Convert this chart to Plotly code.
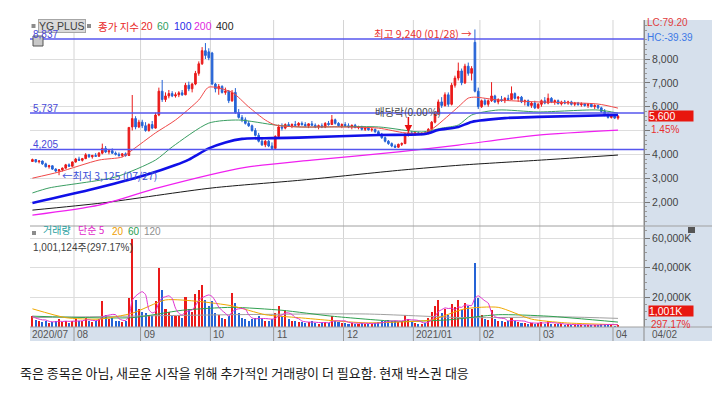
import plotly.graph_objects as go
import pandas as pd

# ---------------- data ----------------
holidays = ["2020-08-17", "2020-09-30", "2020-10-01", "2020-10-02", "2020-10-09",
            "2020-12-25", "2020-12-31", "2021-01-01", "2021-02-11", "2021-02-12", "2021-03-01"]

opens = [
    3700, 3780, 3690, 3720, 3600, 3480, 3520, 3380, 3300, 3350, 3420, 3560, 3500,
    3680, 3800, 3750, 3820, 3980, 3900, 3950, 3920, 4050, 4250, 4100, 4150, 4050, 4000, 3950, 4020, 3950, 5150, 5500, 5150,
    5350, 5200, 5000, 5250, 5100, 5650, 6650, 6300, 6450, 6550, 6450, 6500, 6580, 6500, 6900, 6750, 6950, 7400, 7800, 8350, 8300,
    8250, 6950, 6750, 6850, 6600, 6650, 6250, 6600, 5750, 5550, 5450, 5300, 5200, 5000, 4800, 4550, 4400, 4550, 4350,
    4250, 4750, 5150, 5100, 5250, 5200, 5250, 5220, 5300, 5250, 5200, 5280, 5220, 5150, 5200, 5150, 5300, 5250, 5450, 5300, 5200,
    5250, 5200, 5150, 5220, 5120, 5150, 5050, 5100, 5030, 5050, 4950, 4850, 4700, 4550, 4450, 4350, 4300, 4420, 4450, 4850, 4900,
    4850, 4900, 4850, 4880, 4860, 5050, 5350, 5700, 6200, 6050, 6500, 6100, 6900, 7200, 7500, 7000, 7700, 7400, 8700, 6650,
    6000, 6250, 6100, 6250, 6450, 6200, 6300, 6250, 6350, 6300, 6550, 6350, 6400, 6200, 6250, 6050, 6150, 5950,
    6100, 6250, 6150, 6350, 6200, 6250, 6120, 6200, 6150, 6200, 6100, 6150, 6080, 6120, 6050, 6100, 6000, 6050, 5950, 5800, 5650, 5550,
    5650, 5520,
]
highs = [
    3820, 3800, 3760, 3740, 3650, 3560, 3540, 3420, 3380, 3450, 3600, 3620, 3700,
    3850, 3900, 3850, 4050, 4020, 3980, 4050, 4100, 4450, 4350, 4200, 4250, 4120, 4080, 4050, 4080, 5130, 6490, 5600, 5450,
    5450, 5350, 5300, 5400, 5750, 6800, 7120, 6600, 6700, 6650, 6600, 6650, 6700, 7000, 7050, 7000, 7500, 7900, 8500, 8670, 8450,
    8300, 7000, 6950, 6900, 6800, 6700, 6700, 6780, 5900, 5650, 5550, 5400, 5250, 5100, 4900, 4700, 4600, 4600, 4500,
    4800, 5250, 5300, 5300, 5350, 5300, 5400, 5350, 5380, 5350, 5300, 5400, 5300, 5250, 5300, 5350, 5400, 5650, 5500, 5350, 5300,
    5350, 5300, 5250, 5280, 5200, 5200, 5150, 5150, 5100, 5080, 5000, 4900, 4750, 4600, 4500, 4420, 4450, 4500, 4900, 5000, 4980,
    4950, 4950, 4920, 4950, 5100, 5400, 5800, 6300, 6400, 6600, 6600, 7000, 7300, 7850, 7600, 7800, 7850, 7700, 9240, 6800,
    6300, 6350, 6300, 7030, 6500, 6350, 6450, 6400, 6500, 6850, 6600, 6450, 6450, 6300, 6300, 6200, 6250, 6150,
    6300, 6400, 6550, 6400, 6300, 6300, 6250, 6280, 6250, 6250, 6200, 6200, 6180, 6150, 6150, 6150, 6100, 6080, 6000, 5900, 5750, 5700,
    5700, 5650,
]
lows = [
    3680, 3650, 3620, 3560, 3450, 3400, 3350, 3250, 3125, 3280, 3400, 3480, 3490,
    3650, 3720, 3700, 3800, 3850, 3820, 3900, 3900, 4000, 4050, 4000, 4020, 3950, 3900, 3880, 3900, 3940, 5000, 5050, 5100,
    5100, 4950, 4950, 5050, 5080, 5600, 6200, 6200, 6350, 6400, 6380, 6400, 6450, 6480, 6650, 6600, 6900, 7300, 7750, 8000, 7950,
    6900, 6600, 6500, 6550, 6500, 6150, 6200, 5700, 5500, 5350, 5250, 5150, 4950, 4750, 4500, 4350, 4300, 4300, 4205,
    4220, 4700, 5000, 5050, 5150, 5100, 5180, 5150, 5200, 5150, 5100, 5200, 5100, 5050, 5100, 5100, 5200, 5230, 5250, 5150, 5100,
    5150, 5100, 5050, 5100, 5050, 5000, 4980, 5000, 4950, 4900, 4800, 4650, 4500, 4400, 4300, 4265, 4270, 4350, 4430, 4750, 4800,
    4780, 4820, 4800, 4830, 4850, 5000, 5300, 5650, 5950, 6000, 6000, 6050, 6800, 7100, 6900, 6950, 7300, 7100, 6600, 5900,
    5950, 6050, 6000, 6200, 6150, 6100, 6200, 6150, 6250, 6280, 6300, 6200, 6150, 6050, 6000, 5950, 5900, 5900,
    6000, 6100, 6100, 6150, 6080, 6100, 6050, 6100, 6080, 6050, 6020, 6050, 6000, 6000, 5950, 5980, 5900, 5900, 5750, 5600, 5500, 5500,
    5480, 5450,
]
closes = [
    3780, 3690, 3720, 3600, 3480, 3520, 3380, 3300, 3350, 3420, 3560, 3500, 3680,
    3800, 3750, 3820, 3980, 3900, 3950, 3920, 4050, 4250, 4100, 4150, 4050, 4000, 3950, 4020, 3950, 5130, 5500, 5150, 5350,
    5200, 5000, 5250, 5100, 5650, 6650, 6300, 6450, 6550, 6450, 6500, 6580, 6500, 6900, 6750, 6950, 7400, 7800, 8350, 8150, 8050,
    6950, 6750, 6850, 6600, 6650, 6250, 6600, 5750, 5550, 5450, 5300, 5200, 5000, 4800, 4550, 4400, 4550, 4350, 4250,
    4750, 5150, 5100, 5250, 5200, 5250, 5220, 5300, 5250, 5200, 5280, 5220, 5150, 5200, 5150, 5300, 5250, 5450, 5300, 5200, 5250,
    5200, 5150, 5220, 5120, 5150, 5050, 5100, 5030, 5050, 4950, 4850, 4700, 4550, 4450, 4350, 4300, 4420, 4450, 4850, 4900, 4850,
    4900, 4850, 4880, 4860, 5050, 5350, 5700, 6200, 6050, 6500, 6100, 6900, 7200, 7500, 7000, 7700, 7400, 7600, 6650, 6000,
    6250, 6100, 6250, 6450, 6200, 6300, 6250, 6350, 6300, 6550, 6350, 6400, 6200, 6250, 6050, 6150, 5950, 6100,
    6250, 6150, 6350, 6200, 6250, 6120, 6200, 6150, 6200, 6100, 6150, 6080, 6120, 6050, 6100, 6000, 6050, 5950, 5800, 5650, 5550, 5650,
    5520, 5600,
]
volumes_k = [
    7000, 4500, 3500, 3000, 4000, 2500, 3000, 3500, 5000, 3000, 3500, 2500, 4000,
    5000, 4000, 3500, 6000, 4000, 3000, 3500, 5000, 17000, 8000, 5000, 6000, 4000, 3500, 3000, 4000, 19000, 59000, 18000, 12000,
    10000, 9000, 8000, 7000, 17000, 40000, 25000, 12000, 10000, 8000, 7000, 8000, 6000, 20000, 12000, 10000, 22000, 25000, 28000, 18000, 14000,
    17000, 9000, 8000, 6000, 5000, 7000, 23000, 16000, 9000, 6000, 5000, 4000, 5000, 6000, 7000, 5000, 4000, 4000, 5000,
    9000, 14000, 7000, 11000, 5000, 4000, 3500, 3000, 3000, 2500, 3000, 3500, 2500, 2000, 2500, 3000, 2500, 7000, 4000, 3000, 2500,
    2500, 2000, 2500, 2000, 2000, 2500, 2000, 1800, 2000, 2500, 3000, 3500, 4000, 4500, 3500, 4000, 3000, 3500, 8000, 5000, 3000,
    2500, 2000, 2000, 2500, 6000, 10000, 14000, 18000, 9000, 12000, 8000, 15000, 13000, 18000, 11000, 16000, 14000, 12000, 43000, 19000,
    8000, 5000, 4500, 11000, 5000, 4000, 3500, 3000, 3500, 6000, 4000, 3000, 2500, 2500, 2000, 2500, 2000, 2500,
    3000, 2000, 3500, 2000, 1800, 1500, 1500, 1300, 1500, 1200, 1200, 1000, 1200, 1000, 1100, 900, 1000, 900, 1500, 1800, 1600, 1200,
    337, 1001,
]

# moving averages (day index, value)
ma20_i = [0, 8, 20, 27, 30, 37, 43, 50, 53, 60, 65, 70, 73, 80, 92, 104, 112, 118, 121, 128, 131, 133, 140, 152, 170, 176]
ma20_v = [3000, 3260, 3760, 3890, 4180, 4900, 5440, 6280, 6820, 6600, 5990, 5440, 5230, 5150, 5150, 5100, 4900, 4900, 5150, 5990, 6360, 6400, 6280, 6200, 6110, 5940]
ma60_i = [0, 5, 25, 37, 42, 53, 62, 73, 80, 104, 117, 123, 128, 132, 140, 152, 170, 176]
ma60_v = [2380, 2590, 3050, 3760, 4310, 5310, 5440, 5230, 5150, 5150, 4940, 5100, 5230, 5650, 5860, 5780, 5860, 5730]
ma100_i = [0, 17, 34, 43, 47, 53, 58, 63, 72, 80, 104, 118, 122, 128, 132, 142, 152, 176]
ma100_v = [1960, 2500, 3130, 3550, 3780, 4250, 4500, 4650, 4680, 4700, 4810, 4850, 5020, 5150, 5360, 5520, 5570, 5650]
ma200_i = [0, 20, 38, 64, 84, 110, 128, 152, 176]
ma200_v = [1450, 1870, 2600, 3450, 3760, 4100, 4390, 4810, 5020]
ma400_i = [0, 21, 54, 81, 111, 129, 153, 176]
ma400_v = [1660, 1960, 2590, 2920, 3340, 3550, 3760, 3970]

vma20_i = [0, 10, 20, 30, 40, 50, 60, 70, 80, 90, 100, 110, 120, 130, 140, 150, 160, 176]
vma20_v = [12000, 6000, 5000, 9000, 18000, 17000, 14000, 8000, 6000, 4000, 2500, 3000, 4500, 12000, 13000, 5000, 2500, 1200]
vma60_i = [0, 30, 45, 60, 75, 90, 110, 125, 140, 155, 176]
vma60_v = [7000, 6000, 11000, 13000, 11000, 7000, 3500, 4500, 8000, 7000, 3000]
vma120_i = [0, 60, 100, 130, 160, 176]
vma120_v = [6000, 8000, 8500, 6000, 6500, 5500]

level_lines = [8837, 5737, 4205]
price_ticks = [2000, 3000, 4000, 5000, 6000, 7000, 8000]
price_tick_text = ["2,000", "3,000", "4,000", "", "6,000", "7,000", "8,000"]
vol_ticks = [20000, 40000, 60000]
vol_tick_text = ["20,000K", "40,000K", "60,000K"]
month_labels = ["2020/07", "08", "09", "10", "11", "12", "2021/01", "02", "03", "04"]

high_idx, high_val = 133, 9240
low_idx, low_val = 8, 3125
exdiv_idx = 113

# ---------------- build ----------------
dates = [d for d in pd.bdate_range("2020-07-15", "2021-04-02") if d.strftime("%Y-%m-%d") not in holidays]
idx = list(range(len(dates)))
month_first = [i for i, d in enumerate(dates) if i == 0 or d.month != dates[i - 1].month]

RED = "#EA1A1A"
BLUE = "#2563D6"
# page has an 8px body margin: figure is 712x389 so it fills the 720x397 window
W, H = 712, 389
L, R, T, B = 22, 76, 12, 70
PW, PH = W - L - R, H - T - B
OFF = 8  # page offset


def px_x(px):  # page pixel -> paper x
    return (px - OFF - L) / PW


def px_y(py):  # page pixel -> paper y
    return (H - B - (py - OFF)) / PH


FONT = "Liberation Sans, Noto Sans CJK KR, sans-serif"
KFONT = "Noto Sans CJK KR, sans-serif"

fig = go.Figure()
fig.add_trace(go.Candlestick(
    x=idx, open=opens, high=highs, low=lows, close=closes,
    increasing=dict(line=dict(color=RED, width=1), fillcolor=RED),
    decreasing=dict(line=dict(color=BLUE, width=1), fillcolor=BLUE),
    whiskerwidth=0, hoverinfo="skip", showlegend=False))

for xs, ys, col, w in [(ma400_i, ma400_v, "#1A1A1A", 1), (ma200_i, ma200_v, "#F020F0", 1.2),
                       (ma60_i, ma60_v, "#3A9E62", 1), (ma20_i, ma20_v, "#F04848", 1),
                       (ma100_i, ma100_v, "#1010E8", 2.6)]:
    fig.add_trace(go.Scatter(x=xs, y=ys, mode="lines", line=dict(color=col, width=w, shape="spline", smoothing=0.7),
                             hoverinfo="skip", showlegend=False))

vcol = [RED if c >= o else BLUE for o, c in zip(opens, closes)]
fig.add_trace(go.Bar(x=idx, y=volumes_k, width=0.62, marker=dict(color=vcol, line=dict(width=0)),
                     yaxis="y2", hoverinfo="skip", showlegend=False))
vma5 = pd.Series(volumes_k).rolling(5, min_periods=1).mean().tolist()
for xs, ys, col in [(vma120_i, vma120_v, "#A0A0A0"), (vma60_i, vma60_v, "#30A050"),
                    (vma20_i, vma20_v, "#F0A800"), (idx, vma5, "#E030D0")]:
    fig.add_trace(go.Scatter(x=xs, y=ys, mode="lines", line=dict(color=col, width=1, shape="spline", smoothing=0.6),
                             yaxis="y2", hoverinfo="skip", showlegend=False))

shapes = []
shapes.append(dict(type="rect", xref="paper", yref="paper", x0=1, x1=px_x(720), y0=px_y(341), y1=1,
                   fillcolor="#D6E0EC", line=dict(width=0), layer="below"))
shapes.append(dict(type="rect", xref="paper", yref="paper", x0=0, x1=1, y0=px_y(341), y1=0,
                   fillcolor="#D6E0EC", line=dict(width=0), layer="below"))
for mf in month_first[1:]:
    shapes.append(dict(type="line", xref="x", yref="paper", x0=mf - 0.5, x1=mf - 0.5, y0=0, y1=1,
                       line=dict(color="#D4D4D4", width=1), layer="below"))
    shapes.append(dict(type="line", xref="x", yref="paper", x0=mf - 0.5, x1=mf - 0.5, y0=px_y(341), y1=0,
                       line=dict(color="#9A9A9A", width=1)))
shapes.append(dict(type="line", xref="paper", yref="paper", x0=1, x1=1, y0=px_y(341), y1=1,
                   line=dict(color="#8A8A8A", width=1)))
shapes.append(dict(type="line", xref="paper", yref="paper", x0=0, x1=px_x(720), y0=px_y(226), y1=px_y(226),
                   line=dict(color="#A0A0A0", width=1)))
shapes.append(dict(type="line", xref="paper", yref="paper", x0=0, x1=px_x(720), y0=0, y1=0,
                   line=dict(color="#A0A0A0", width=1)))
for lv in level_lines:
    shapes.append(dict(type="line", xref="paper", yref="y", x0=0, x1=1, y0=lv, y1=lv,
                       line=dict(color="#5656EE", width=1.4)))
for x0, x1, y0, y1, fc in [(31.5, 35.5, 24, 28, "#8C8C8C"), (87, 91, 24, 28, "#8C8C8C"),
                           (32, 36, 231, 235, "#8C8C8C"), (688, 695, 227, 233, "#555555")]:
    shapes.append(dict(type="rect", xref="paper", yref="paper", x0=px_x(x0), x1=px_x(x1), y0=px_y(y1), y1=px_y(y0),
                       fillcolor=fc, line=dict(width=0)))
shapes.append(dict(type="rect", xref="paper", yref="paper", x0=px_x(33), x1=px_x(43), y0=px_y(46), y1=px_y(36),
                   fillcolor="#C8C8C8", line=dict(color="#555555", width=1)))

ann = []


def text(x, y, s, color="#333", size=10, xanchor="left", yanchor="middle", xref="paper", yref="paper",
         family=FONT, **kw):
    d = dict(x=x, y=y, xref=xref, yref=yref, text=s, showarrow=False, xanchor=xanchor, yanchor=yanchor,
             font=dict(color=color, size=size, family=family))
    d.update(kw)
    ann.append(d)


text(px_x(38), px_y(26), "YG PLUS", "#404040", 10.5, bgcolor="#DADADA", bordercolor="#A6A6A6", borderwidth=1,
     borderpad=0)
text(px_x(96), px_y(26), "종가 지수", "#E82828", 10.5, family=KFONT)
text(px_x(139), px_y(26), "20", "#E82828", 10.5)
text(px_x(155), px_y(26), "60", "#2E9E60", 10.5)
text(px_x(172), px_y(26), "100", "#2828E6", 10.5)
text(px_x(192), px_y(26), "200", "#E028E0", 10.5)
text(px_x(214), px_y(26), "400", "#222222", 10.5)

for lv in level_lines:
    text(px_x(31), lv, f"{lv:,}", "#4848D8", 10, yref="y", yanchor="bottom", yshift=-3)

text(high_idx, high_val, f"최고 {high_val:,} (01/28) →", "#E83030", 10.5, xanchor="right", xref="x", yref="y",
     family=KFONT, xshift=-1, yshift=-4)
text(low_idx, low_val, f"←최저 {low_val:,} (07/27)", "#3A4ED8", 10.5, xref="x", yref="y", family=KFONT, xshift=1)
text(exdiv_idx, 5818, "배당락(0.00%)", "#4A4A4A", 10.5, xanchor="center", xref="x", yref="y", family=KFONT)
ann.append(dict(x=exdiv_idx, y=4920, xref="x", yref="y", ax=0, ay=-17, showarrow=True, arrowhead=2, arrowsize=1,
                arrowwidth=1.5, arrowcolor="#E81010", text=""))

text(px_x(41), px_y(239), "거래량", "#26A0A0", 10, family=KFONT, yanchor="bottom")
text(px_x(76), px_y(239), "단순 5", "#E028C8", 10, family=KFONT, yanchor="bottom")
text(px_x(110), px_y(239), "20", "#F0A000", 10, yanchor="bottom")
text(px_x(126), px_y(239), "60", "#28A050", 10, yanchor="bottom")
text(px_x(142), px_y(239), "120", "#909090", 10, yanchor="bottom")
text(px_x(31), px_y(239.5), "1,001,124주(297.17%)", "#404040", 10, yanchor="top")

text(px_x(645), px_y(29.5), "LC:79.20", "#E03C3C", 10, yanchor="bottom")
text(px_x(645), px_y(29.5), "HC:-39.39", "#3C78E6", 10, yanchor="top")
text(px_x(648), px_y(122), f"{closes[-1]:,}", "#FFFFFF", 10.5, bgcolor="#E8170F", width=44, height=10,
     align="left", borderpad=0, yanchor="bottom")
text(px_x(649), px_y(122), "1.45%", "#E83030", 10, yanchor="top")
text(px_x(648), px_y(317), f"{volumes_k[-1]:,}K", "#FFFFFF", 10.5, bgcolor="#E8170F", width=44, height=10,
     align="left", borderpad=0, yanchor="bottom")
text(px_x(649), px_y(317), "297.17%", "#E83030", 10, yanchor="top")

for mf, lab in zip(month_first, month_labels):
    if mf == 0:
        text(0, px_y(334.5), lab, "#555555", 10)
    else:
        text(mf - 0.5, px_y(334.5), lab, "#555555", 10, xref="x", xshift=1)
text(px_x(650), px_y(334.5), dates[-1].strftime("%m/%d"), "#555555", 10)

text(px_x(18), px_y(372), "죽은 종목은 아님, 새로운 시작을 위해 추가적인 거래량이 더 필요함. 현재 박스권 대응",
     "#1A1A1A", 13, family=KFONT)

minor_vals = [v for v in range(1200, 9600, 200) if v % 1000 != 0]

fig.update_layout(
    width=W, height=H, margin=dict(l=L, r=R, t=T, b=B, pad=0),
    paper_bgcolor="white", plot_bgcolor="white", showlegend=False, hovermode=False,
    font=dict(family=FONT, size=10, color="#444"),
    shapes=shapes, annotations=ann, bargap=0,
    xaxis=dict(range=[-0.73, 183.82], showgrid=False, zeroline=False, showticklabels=False, ticks="",
               rangeslider=dict(visible=False), showline=False, fixedrange=True),
    yaxis=dict(domain=[px_y(226), 1], range=[993, 9637], side="right", tickvals=price_ticks, ticktext=price_tick_text,
               ticks="outside", ticklen=5, tickcolor="#777", showline=True, linecolor="#8A8A8A",
               gridcolor="#DDDDDD", zeroline=False, tickfont=dict(size=10.5, color="#444"),
               minor=dict(tickvals=minor_vals, ticks="outside", ticklen=2, tickcolor="#999", showgrid=False),
               fixedrange=True),
    yaxis2=dict(domain=[0, px_y(226)], range=[-339, 68139], side="right", tickvals=vol_ticks, ticktext=vol_tick_text,
                ticks="outside", ticklen=5, tickcolor="#777", showline=True, linecolor="#8A8A8A",
                gridcolor="#DDDDDD", zeroline=False, tickfont=dict(size=10.5, color="#444"),
                minor=dict(tickvals=[v for v in range(5000, 68000, 5000) if v % 20000 != 0], ticks="outside",
                           ticklen=2, tickcolor="#999", showgrid=False),
                fixedrange=True),
)

fig.write_html("out.html", config={"displayModeBar": False})
